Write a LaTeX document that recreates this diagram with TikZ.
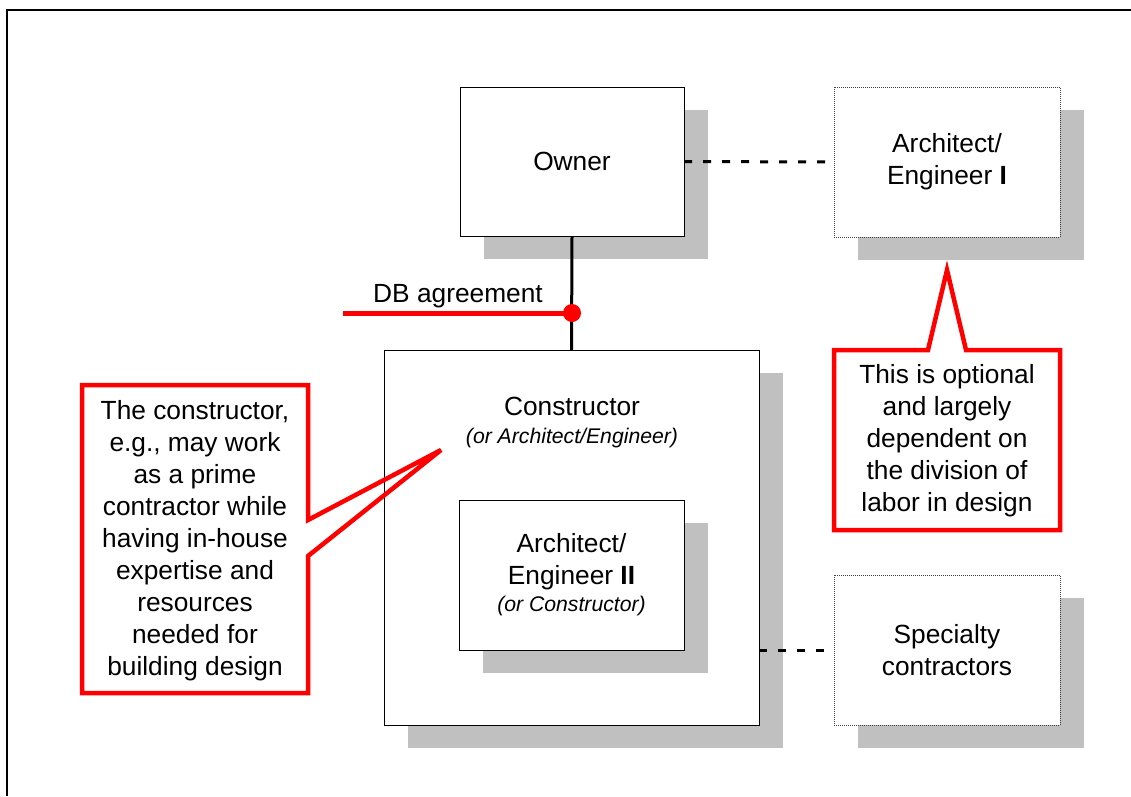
\documentclass[tikz,border=0pt]{standalone}
\usepackage{fontspec}
\setmainfont{Liberation Sans}
\usetikzlibrary{shadows}
\definecolor{shadowgray}{HTML}{C0C0C0}
\definecolor{calloutred}{HTML}{FF0000}
\newcommand{\bodysize}{\fontsize{26.3}{32}\selectfont}
\newcommand{\notesize}{\fontsize{21.2}{26}\selectfont\itshape}
\begin{document}
\begin{tikzpicture}[x=1pt,y=-1pt,
  boxshadow/.style={general shadow={fill=shadowgray, shadow xshift=24pt, shadow yshift=-23pt}},
  solidbox/.style={draw=black, line width=0.9pt, fill=white, inner sep=0pt, outer sep=0pt,
    align=center, font=\bodysize, boxshadow},
  dottedbox/.style={solidbox, draw=black!75, dash pattern=on 1pt off 1pt},
  linkdash/.style={line width=3pt, dash pattern=on 8pt off 11pt},
  tie/.style={line width=3pt},
  redline/.style={draw=calloutred, line width=5pt},
  callout/.style={draw=calloutred, line width=4.5pt, line join=miter},
  plain/.style={inner sep=0pt, align=center, font=\bodysize}]

\useasboundingbox (0,0) rectangle (1131,796);

% frame edges
\draw[line width=2.2pt] (7,796) -- (7,10) -- (1131,10);

% main boxes
\node[solidbox, minimum width=224pt, minimum height=149pt] (owner) at (572,161.5) {Owner};
\node[dottedbox, minimum width=226pt, minimum height=150pt] (arch1) at (947,162)
  {Architect/\\Engineer \textbf{I}};
\node[solidbox, minimum width=375pt, minimum height=375pt] (cons) at (571.5,537.5) {};
\node[plain] (constext) at (572,423) {Constructor\\[-4pt]{\notesize (or Architect/Engineer)}};
\node[solidbox, minimum width=225pt, minimum height=150pt] (arch2) at (571.5,575)
  {Architect/\\Engineer \textbf{II}\\[-5pt]{\notesize (or Constructor)}};
\node[dottedbox, minimum width=226pt, minimum height=150pt] (spec) at (947,650)
  {Specialty\\contractors};

% connectors
\draw[linkdash] (owner.east) -- (arch1.west);
\draw[linkdash] (spec.west -| cons.east) -- (spec.west);
\draw[tie] (owner.south) -- (cons.north);

% design-build agreement marker
\coordinate (db) at (572,313);
\coordinate (dbstart) at (343,313);
\draw[redline] (dbstart) -- (db);
\fill[calloutred] (db) circle (9pt);
\node[plain] (dblabel) at (458,296) {DB agreement};

% callouts
\draw[callout] (82,385) -- (308,385) -- (308,520) -- (441,450) -- (308,556)
  -- (308,693) -- (82,693) -- cycle;
\node[plain] (leftnote) at (195,541)
  {The constructor,\\e.g., may work\\as a prime\\contractor while\\having in-house\\expertise and\\resources\\needed for\\building design};

\draw[callout] (834,350) -- (928,350) -- (947,270) -- (966,350) -- (1060,350)
  -- (1060,530) -- (834,530) -- cycle;
\node[plain] (rightnote) at (947,441)
  {This is optional\\and largely\\dependent on\\the division of\\labor in design};

\end{tikzpicture}
\end{document}
